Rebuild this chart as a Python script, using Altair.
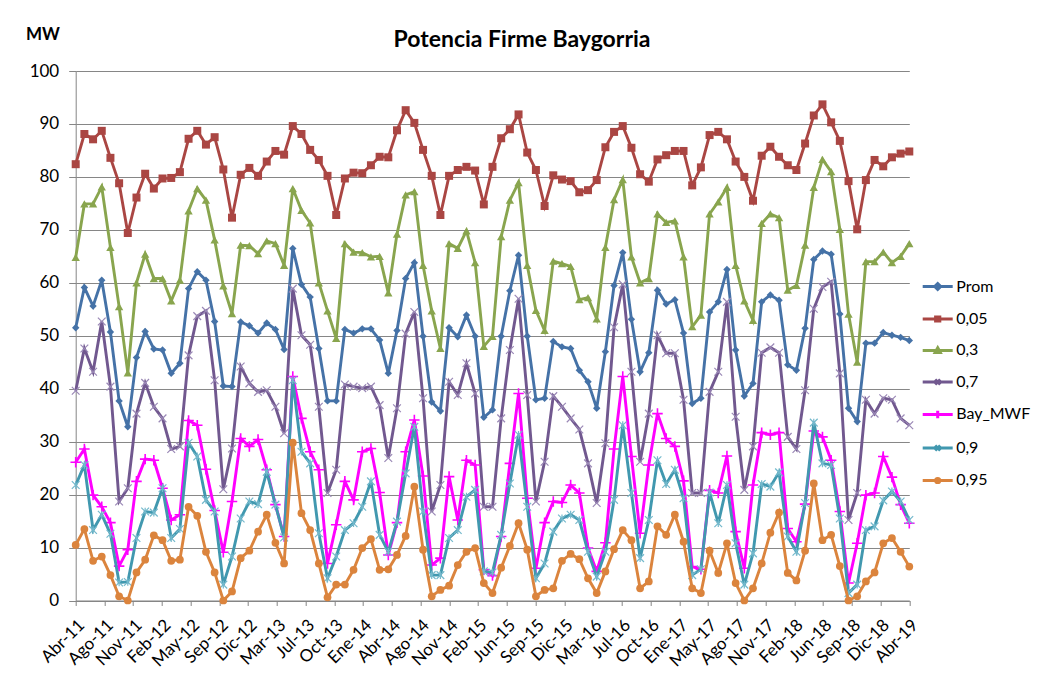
import json
import altair as alt
import pandas as pd

# ---------------- data ----------------
series_names = ["Prom", "0,05", "0,3", "0,7", "Bay_MWF", "0,9", "0,95"]

prom = [51.5, 59.1, 55.6, 60.5, 50.7, 37.7, 32.8, 45.9, 50.8, 47.5, 47.3, 42.9, 44.8, 58.9, 62.1, 60.5, 52.7, 40.5, 40.4, 52.6, 51.9, 50.5, 52.4, 51.2, 47.4,
        66.5, 59.7, 57.3, 47.6, 37.7, 37.7, 51.2, 50.5, 51.3, 51.3, 49.2, 42.9, 51.0, 60.8, 63.8, 49.9, 37.5, 35.8, 51.5, 49.8, 53.9, 49.9, 34.6, 36.0, 49.9, 58.5,
        65.2, 49.9, 37.9, 38.2, 48.9, 47.9, 47.6, 43.5, 41.3, 36.3, 47.0, 59.5, 65.7, 53.1, 43.2, 46.8, 58.6, 56.0, 56.8, 50.5, 37.2, 38.2, 54.5, 56.4, 62.5,
        47.3, 38.6, 41.0, 56.4, 57.7, 56.7, 44.5, 43.5, 51.4, 64.4, 66.0, 65.4, 54.1, 36.3, 33.8, 48.6, 48.6, 50.6, 50.1, 49.7, 49.1]

p05 = [82.4, 88.1, 87.1, 88.7, 83.6, 78.8, 69.4, 76.1, 80.6, 77.8, 79.7, 79.8, 80.9, 87.2, 88.7, 86.1, 87.5, 81.4, 72.3, 80.4, 81.7, 80.2, 82.9, 84.9, 84.2,
       89.6, 88.1, 85.1, 83.2, 80.2, 72.8, 79.7, 80.8, 80.7, 82.2, 83.8, 83.7, 88.8, 92.6, 90.2, 85.1, 80.2, 72.8, 80.2, 81.3, 81.9, 81.2, 74.8, 81.9, 87.3, 89.0,
       91.8, 84.6, 81.3, 74.5, 80.3, 79.5, 79.2, 77.1, 77.5, 79.4, 85.6, 88.5, 89.6, 85.5, 80.5, 79.1, 83.3, 84.1, 84.9, 84.9, 78.4, 81.8, 87.9, 88.5, 87.1,
       82.9, 80.0, 75.5, 84.0, 85.7, 83.8, 82.2, 81.3, 86.3, 91.6, 93.7, 90.3, 86.8, 79.2, 70.1, 79.4, 83.2, 82.0, 83.7, 84.4, 84.8]

p30 = [64.8, 74.9, 74.9, 78.1, 66.7, 55.5, 43.0, 60.0, 65.4, 60.8, 60.8, 56.6, 60.5, 73.6, 77.8, 75.6, 68.1, 59.4, 54.2, 67.1, 67.0, 65.5, 67.9, 67.4, 63.3,
       77.8, 73.7, 71.3, 60.0, 54.7, 49.5, 67.4, 65.8, 65.7, 64.9, 65.0, 58.1, 69.2, 76.6, 77.2, 63.3, 54.7, 47.6, 67.4, 66.5, 69.8, 63.8, 48.0, 49.9, 68.7, 75.6,
       78.9, 63.3, 54.8, 51.0, 64.1, 63.6, 63.1, 56.8, 57.2, 53.2, 66.7, 75.7, 79.5, 64.9, 60.0, 60.8, 73.0, 71.4, 71.7, 64.9, 51.7, 53.9, 73.0, 75.3, 78.0,
       63.3, 56.6, 52.9, 71.2, 73.0, 72.3, 58.6, 59.5, 67.1, 78.0, 83.3, 81.0, 70.1, 54.1, 45.0, 64.0, 64.0, 65.8, 63.8, 65.0, 67.4]

p70 = [39.6, 47.6, 43.2, 52.7, 40.4, 18.7, 21.2, 35.3, 41.1, 36.6, 34.4, 28.6, 29.1, 46.3, 53.7, 54.7, 41.6, 21.0, 28.7, 44.2, 41.0, 39.4, 39.7, 36.6, 31.6,
       58.9, 50.1, 48.3, 36.6, 20.3, 24.7, 40.8, 40.4, 40.1, 40.4, 36.9, 26.9, 36.3, 50.4, 54.5, 38.2, 16.8, 21.8, 41.3, 38.8, 44.8, 39.1, 17.7, 17.7, 34.4, 47.3,
       57.0, 38.8, 18.7, 26.2, 38.6, 36.6, 34.4, 32.3, 25.9, 18.4, 29.7, 51.6, 59.7, 43.2, 26.2, 35.3, 50.1, 46.7, 46.7, 37.9, 20.3, 20.3, 39.4, 43.2, 56.4,
       34.7, 20.9, 29.1, 46.8, 47.8, 46.8, 30.9, 28.6, 39.7, 55.1, 59.2, 60.2, 42.9, 15.2, 20.3, 37.9, 35.3, 38.2, 37.9, 34.4, 33.1]

bay_mwf = [26.1, 28.6, 19.9, 17.7, 14.7, 6.5, 9.6, 22.5, 26.7, 26.5, 21.2, 15.2, 16.2, 34.0, 33.1, 24.8, 17.0, 9.1, 18.7, 30.6, 29.1, 30.4, 24.7, 18.1, 12.1,
           42.3, 34.4, 28.1, 24.7, 7.0, 14.3, 22.5, 19.0, 28.1, 28.7, 20.4, 8.6, 14.7, 28.1, 34.1, 23.5, 6.7, 8.0, 23.4, 15.2, 26.5, 25.6, 5.8, 4.7, 12.1, 25.9,
           39.1, 19.3, 6.1, 14.7, 18.7, 18.5, 21.8, 20.3, 9.9, 5.5, 10.9, 28.6, 42.3, 27.2, 12.7, 25.6, 35.3, 30.6, 29.1, 22.6, 6.4, 5.9, 20.8, 20.3, 27.3,
           13.0, 6.1, 21.8, 31.7, 31.3, 31.7, 13.6, 11.1, 18.2, 32.0, 30.9, 26.5, 16.8, 3.3, 10.8, 19.9, 20.3, 27.2, 23.3, 18.1, 14.6]

p90 = [21.8, 25.6, 13.3, 16.2, 12.6, 3.4, 3.5, 11.8, 16.8, 16.6, 21.2, 11.8, 13.5, 29.8, 27.2, 19.0, 16.8, 3.0, 8.3, 15.5, 18.7, 18.2, 24.3, 18.1, 11.9,
       41.6, 28.1, 25.9, 12.7, 4.2, 8.3, 13.3, 14.6, 17.7, 22.5, 12.4, 9.2, 14.9, 24.0, 32.8, 16.8, 4.8, 4.8, 11.8, 13.3, 19.6, 20.9, 5.5, 5.3, 12.4, 22.1,
       31.3, 17.7, 4.2, 7.0, 13.0, 15.5, 16.2, 15.2, 9.2, 4.5, 9.2, 19.0, 33.1, 20.3, 8.0, 15.2, 26.5, 22.0, 24.7, 19.3, 4.8, 5.9, 20.4, 14.6, 21.8,
       10.8, 3.0, 8.9, 22.0, 21.5, 24.2, 12.1, 9.2, 18.4, 33.6, 25.9, 25.6, 15.5, 1.4, 3.0, 13.3, 14.0, 18.9, 20.6, 18.7, 15.2]

p95 = [10.5, 13.5, 7.5, 8.3, 4.8, 0.8, 0.0, 5.3, 7.7, 12.3, 11.4, 7.5, 7.7, 17.7, 16.0, 9.2, 5.3, 0.0, 1.7, 8.0, 9.4, 13.0, 16.2, 10.9, 7.0,
       29.8, 16.5, 13.3, 7.0, 0.6, 3.0, 3.0, 5.8, 9.9, 11.6, 5.8, 5.9, 8.6, 12.2, 21.5, 9.6, 0.8, 2.0, 2.8, 6.7, 9.2, 9.9, 3.3, 1.4, 6.2, 10.3,
       14.6, 9.6, 0.8, 2.0, 2.3, 7.5, 8.8, 7.8, 4.2, 1.4, 5.5, 9.7, 13.3, 11.4, 2.3, 3.6, 14.0, 12.4, 16.2, 11.1, 2.3, 1.4, 9.4, 5.2, 10.8,
       3.3, 0.0, 2.3, 7.0, 12.8, 16.6, 5.2, 3.8, 9.4, 22.1, 11.4, 12.4, 6.5, 0.0, 0.8, 3.6, 5.3, 10.8, 11.8, 9.2, 6.4]

tick_labels = ["Abr-11", "Ago-11", "Nov-11", "Feb-12", "May-12", "Sep-12", "Dic-12", "Mar-13",
               "Jul-13", "Oct-13", "Ene-14", "Abr-14", "Ago-14", "Nov-14", "Feb-15", "Jun-15",
               "Sep-15", "Dic-15", "Mar-16", "Jul-16", "Oct-16", "Ene-17", "May-17", "Ago-17",
               "Nov-17", "Feb-18", "Jun-18", "Sep-18", "Dic-18", "Abr-19"]

title_text = "Potencia Firme Baygorria"
unit_text = "MW"

# ---------------- styles ----------------
FONT = "Lato"
colors = ["#4572A7", "#AA4643", "#89A54E", "#71588F", "#FF00FF", "#4198AF", "#DB843D"]
all_values = [prom, p05, p30, p70, bay_mwf, p90, p95]

marker_cfg = [
    dict(shape="diamond", filled=True, size=55, color="#4572A7", sw=0),
    dict(shape="square", filled=True, size=64, color="#AA4643", sw=0),
    dict(shape="triangle-up", filled=True, size=70, color="#89A54E", sw=0),
    dict(shape="M-1,-1L1,1M-1,1L1,-1", filled=False, size=60, color="#9A88B6", sw=1.2),
    dict(shape="M-1,0H1M0,-1V1", filled=False, size=110, color="#FF00FF", sw=1.6),
    dict(shape="M-1,-1L1,1M-1,1L1,-1M0,-1V1", filled=False, size=60, color="#74B9CC", sw=1.2),
    dict(shape="circle", filled=True, size=60, color="#DB843D", sw=0),
]

legend_paths = [
    "M-1,0H1M0,-0.2L0.2,0L0,0.2L-0.2,0Z",
    "M-1,0H1M-0.14,-0.14H0.14V0.14H-0.14Z",
    "M-1,0H1M0,-0.18L0.17,0.13H-0.17Z",
    "M-1,0H1M-0.17,-0.17L0.17,0.17M-0.17,0.17L0.17,-0.17",
    "M-1,0H1M0,-0.25V0.25",
    "M-1,0H1M-0.17,-0.17L0.17,0.17M-0.17,0.17L0.17,-0.17",
    "M-1,0H1M0.14,0A0.14,0.14 0 1,1 -0.14,0A0.14,0.14 0 1,1 0.14,0Z",
]

n_points = len(prom)
tick_pos = [(n_points - 1) * k / (len(tick_labels) - 1) for k in range(len(tick_labels))]
label_expr = json.dumps(tick_labels) + f"[round(datum.value*{len(tick_labels) - 1}/{n_points - 1})]"

x_enc = alt.X(
    "i:Q",
    scale=alt.Scale(domain=[0, n_points - 1], nice=False, zero=False),
    axis=alt.Axis(values=tick_pos, labelExpr=label_expr, title=None, grid=False,
                  domainColor="#868686", tickColor="#868686", tickSize=5,
                  labelAngle=-45, labelAlign="right", labelBaseline="top",
                  labelPadding=11, labelFont=FONT, labelFontSize=17, labelColor="#000000",
                  labelOverlap=False),
)
y_enc = alt.Y(
    "v:Q",
    scale=alt.Scale(domain=[0, 100], nice=False),
    axis=alt.Axis(values=list(range(0, 101, 10)), title=None, grid=True,
                  gridColor="#868686", gridWidth=1, domainColor="#868686",
                  tickColor="#868686", tickSize=7, labelPadding=10,
                  labelFont=FONT, labelFontSize=17, labelColor="#000000"),
)

layers = []
for name, vals, col, mk in zip(series_names, all_values, colors, marker_cfg):
    df = pd.DataFrame({"i": list(range(len(vals))), "v": vals})
    base = alt.Chart(df)
    layers.append(base.mark_line(color=col, strokeWidth=2.9).encode(x=x_enc, y=y_enc))
    if mk["filled"]:
        pts = base.mark_point(shape=mk["shape"], filled=True, size=mk["size"],
                              color=mk["color"], opacity=1)
    else:
        pts = base.mark_point(shape=mk["shape"], filled=False, size=mk["size"],
                              color=mk["color"], strokeWidth=mk["sw"], opacity=1)
    layers.append(pts.encode(x=x_enc, y=y_enc))

# legend-only layer (no marks drawn; scales have explicit domains)
leg = alt.Legend(title=None, orient="none", legendX=845.5, legendY=199,
                 symbolSize=900, symbolStrokeWidth=3, rowPadding=6.5,
                 labelFont=FONT, labelFontSize=16, labelColor="#000000",
                 labelOffset=2, padding=0)
legend_layer = alt.Chart(pd.DataFrame({"series": series_names, "i": [0] * 7, "v": [0] * 7})) \
    .transform_filter("false") \
    .mark_point(opacity=1) \
    .encode(
        x=x_enc, y=y_enc,
        fill=alt.Fill("series:N", scale=alt.Scale(domain=series_names, range=colors), legend=leg),
        stroke=alt.Stroke("series:N", scale=alt.Scale(domain=series_names, range=colors), legend=leg),
        shape=alt.Shape("series:N", scale=alt.Scale(domain=series_names, range=legend_paths), legend=leg),
    )
layers.append(legend_layer)

title_layer = alt.Chart(pd.DataFrame({"t": [title_text]})).mark_text(
    font=FONT, fontSize=23, fontWeight="bold", align="center", baseline="alphabetic", color="#000000"
).encode(x=alt.value(446.3), y=alt.value(-24), text="t:N")
unit_layer = alt.Chart(pd.DataFrame({"t": [unit_text]})).mark_text(
    font=FONT, fontSize=17, fontWeight="bold", align="center", baseline="alphabetic", color="#000000"
).encode(x=alt.value(-32.7), y=alt.value(-31), text="t:N")
layers += [title_layer, unit_layer]

chart = alt.layer(*layers).properties(
    width=833.6, height=529.5,
    autosize=alt.AutoSizeParams(type="none"),
    padding={"left": 67.7, "top": 63, "right": 122, "bottom": 70},
).configure_view(stroke=None)

chart.save("out.html", embed_options={"renderer": "svg", "actions": False})
